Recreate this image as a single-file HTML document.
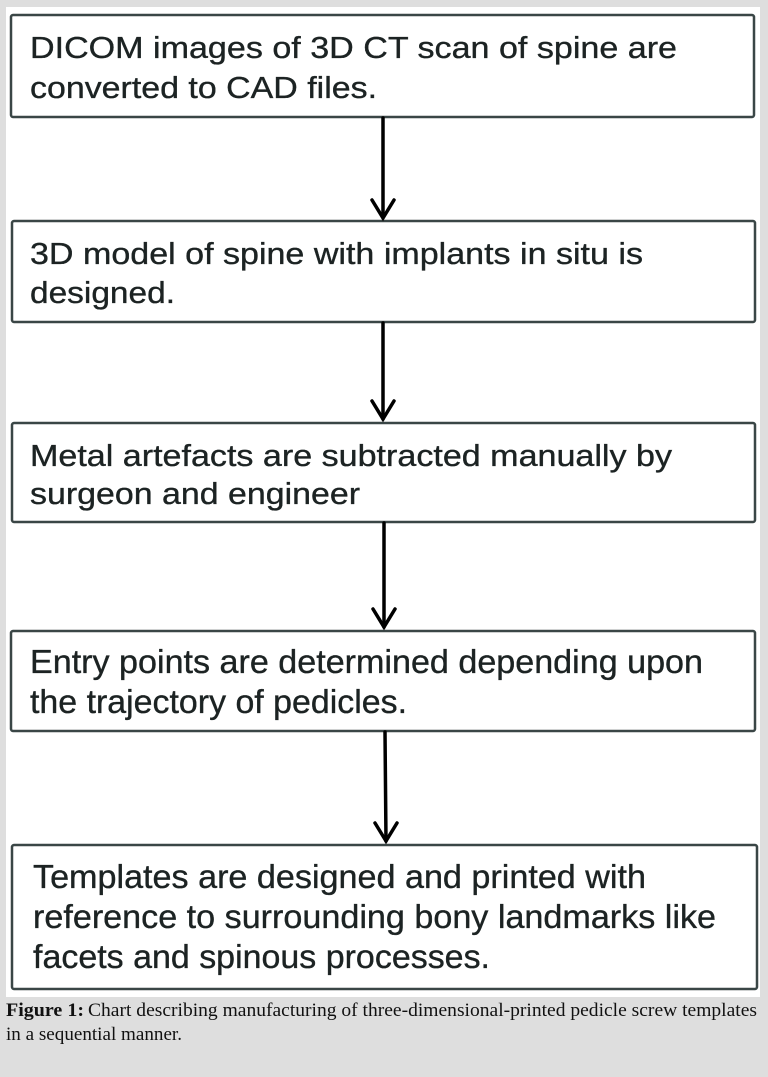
<!DOCTYPE html>
<html>
<head>
<meta charset="utf-8">
<style>
  html, body { margin: 0; padding: 0; background: #dedede; }
  svg { display: block; }
  .t { font-family: "Liberation Sans", Arial, sans-serif; font-size: 31px; fill: #1c2323; stroke: #1c2323; stroke-width: 0.35px; }
  .t2 { font-family: "Liberation Sans", Arial, sans-serif; font-size: 33px; fill: #1c2323; stroke: #1c2323; stroke-width: 0.35px; }
  .c { font-family: "Liberation Serif", "Times New Roman", serif; font-size: 19px; fill: #111; }
</style>
</head>
<body>
<svg width="768" height="1077" viewBox="0 0 768 1077" xmlns="http://www.w3.org/2000/svg">
  <rect x="0" y="0" width="768" height="1077" fill="#dedede"/>
  <rect x="6" y="7" width="754" height="990" fill="#ffffff"/>

  <!-- Boxes -->
  <g fill="none" stroke="#3a4646" stroke-width="2.5">
    <rect x="11" y="15" width="743" height="102" rx="2"/>
    <rect x="12" y="221" width="743" height="101" rx="2"/>
    <rect x="12" y="423" width="743" height="99" rx="2"/>
    <rect x="11" y="631" width="744" height="100" rx="2"/>
    <rect x="12" y="845" width="745" height="144" rx="2"/>
  </g>

  <!-- Arrows -->
  <g stroke="#000" stroke-width="3.5" fill="none" stroke-linecap="round" stroke-linejoin="miter">
    <line x1="383" y1="118" x2="383" y2="217"/>
    <polyline points="372,200 383,218 394,200"/>
    <line x1="383" y1="323" x2="383" y2="419"/>
    <polyline points="372,401 383,419 394,401"/>
    <line x1="384" y1="523" x2="384" y2="627"/>
    <polyline points="373,609 384,627 395,609"/>
    <line x1="385" y1="732" x2="386" y2="841"/>
    <polyline points="375,823 386,841 397,823"/>
  </g>

  <!-- Box texts -->
  <text class="t" x="30" y="58" textLength="647" lengthAdjust="spacingAndGlyphs">DICOM images of 3D CT scan of spine are</text>
  <text class="t" x="30" y="98" textLength="347" lengthAdjust="spacingAndGlyphs">converted to CAD files.</text>

  <text class="t" x="30" y="264" textLength="613" lengthAdjust="spacingAndGlyphs">3D model of spine with implants in situ is</text>
  <text class="t" x="30" y="303" textLength="145" lengthAdjust="spacingAndGlyphs">designed.</text>

  <text class="t" x="30" y="466" textLength="642" lengthAdjust="spacingAndGlyphs">Metal artefacts are subtracted manually by</text>
  <text class="t" x="30" y="504" textLength="330" lengthAdjust="spacingAndGlyphs">surgeon and engineer</text>

  <text class="t2" x="30" y="673" textLength="673" lengthAdjust="spacingAndGlyphs">Entry points are determined depending upon</text>
  <text class="t2" x="30" y="713" textLength="377" lengthAdjust="spacingAndGlyphs">the trajectory of pedicles.</text>

  <text class="t2" x="33" y="888" textLength="613" lengthAdjust="spacingAndGlyphs">Templates are designed and printed with</text>
  <text class="t2" x="33" y="928" textLength="683" lengthAdjust="spacingAndGlyphs">reference to surrounding bony landmarks like</text>
  <text class="t2" x="33" y="968" textLength="457" lengthAdjust="spacingAndGlyphs">facets and spinous processes.</text>

  <!-- Caption -->
  <text class="c" x="6" y="1016" font-weight="bold" textLength="78" lengthAdjust="spacingAndGlyphs">Figure 1:</text>
  <text class="c" x="88" y="1016" textLength="669" lengthAdjust="spacingAndGlyphs">Chart describing manufacturing of three-dimensional-printed pedicle screw templates</text>
  <text class="c" x="6" y="1040" textLength="176" lengthAdjust="spacingAndGlyphs">in a sequential manner.</text>
</svg>
</body>
</html>
